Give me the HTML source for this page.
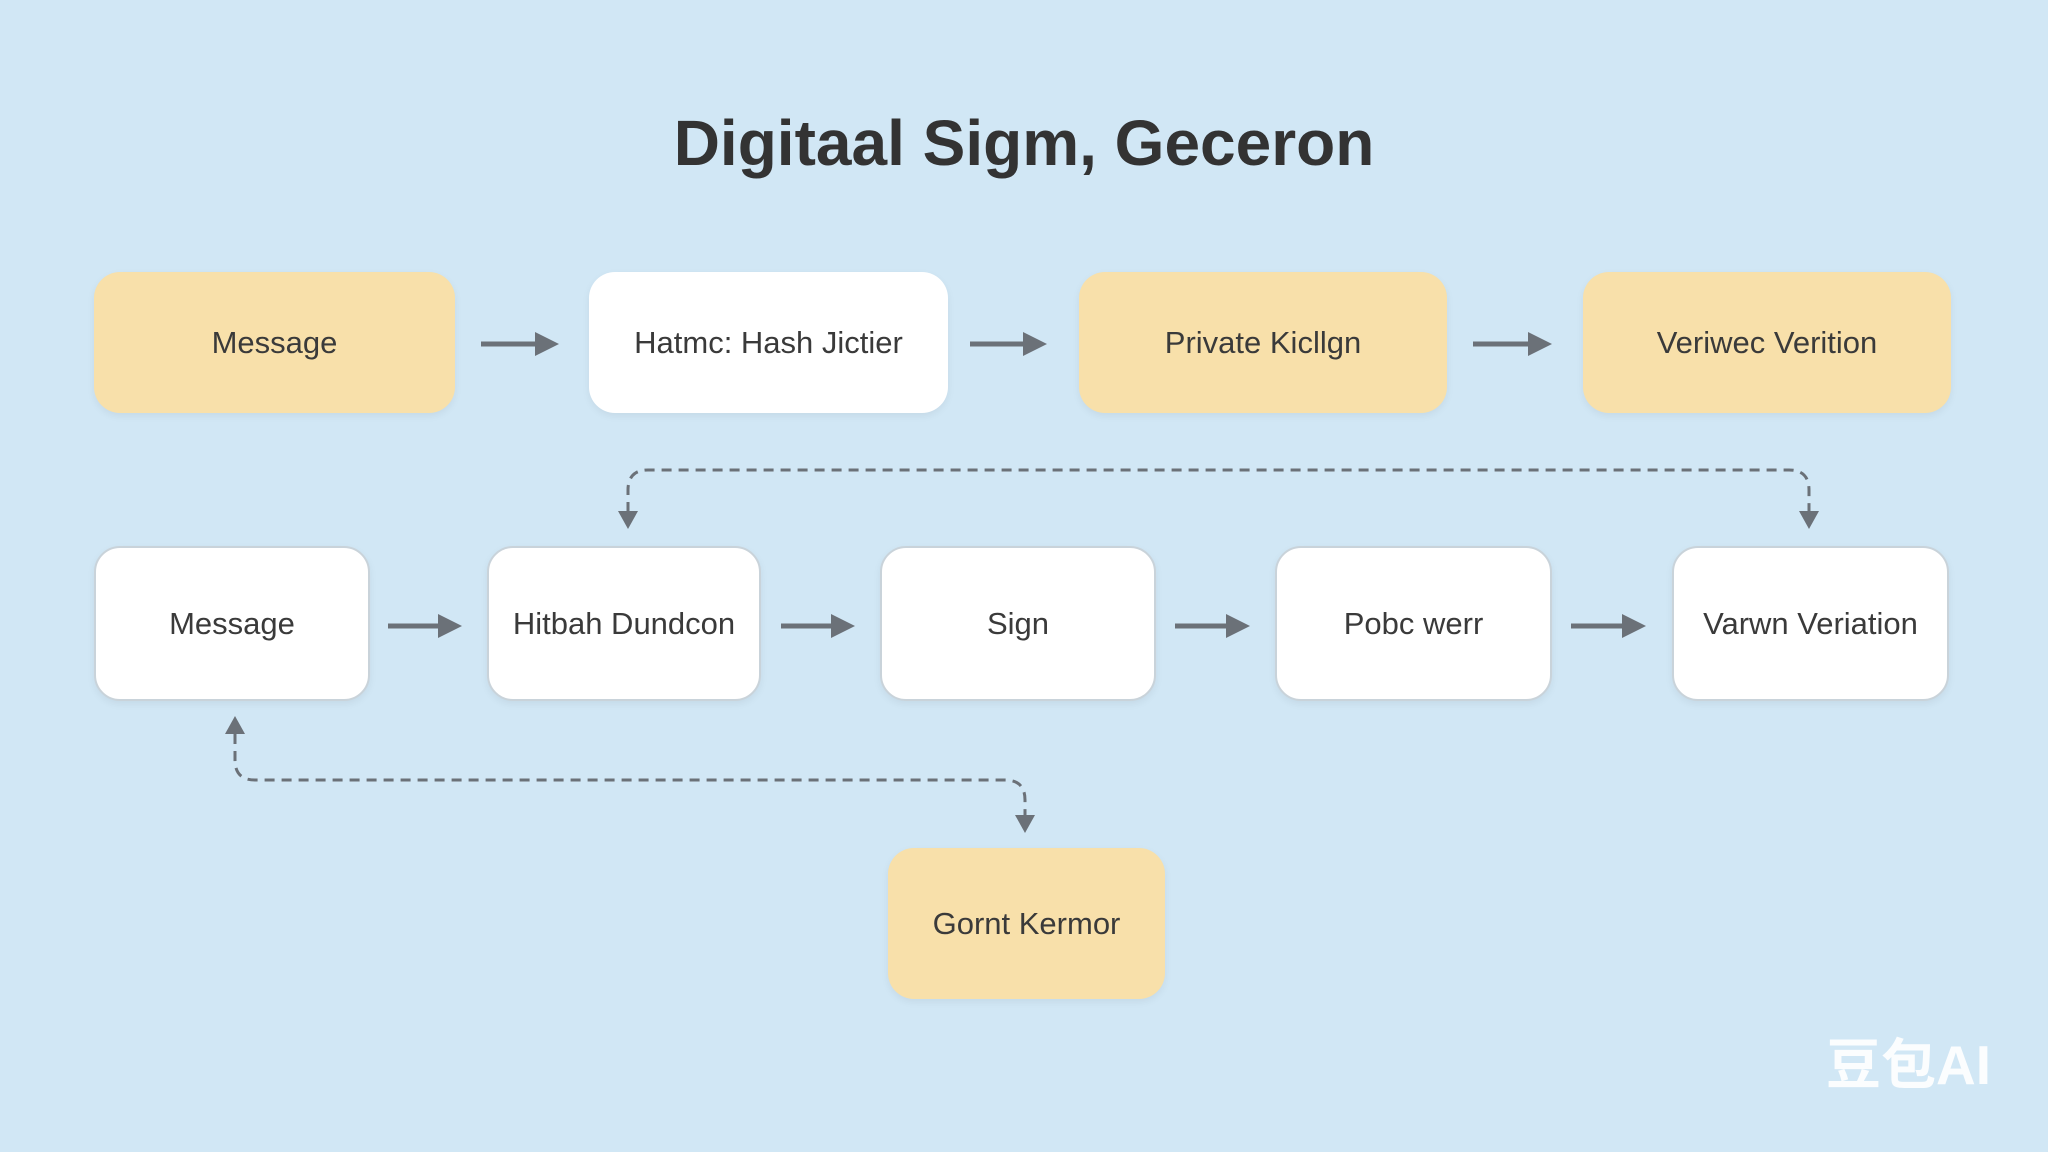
<!DOCTYPE html>
<html><head><meta charset="utf-8"><style>
html,body{margin:0;padding:0}
body{width:2048px;height:1152px;background:#d1e7f5;position:relative;overflow:hidden;font-family:"Liberation Sans","DejaVu Sans",sans-serif;color:#3a3a3a}
.t{position:absolute;left:0;width:2048px;top:106px;text-align:center;font-size:64px;font-weight:bold;color:#333}
.b{position:absolute;display:flex;align-items:center;justify-content:center;font-size:31px;box-sizing:border-box;border-radius:26px}
.y{background:#f8e0aa;box-shadow:0 3px 8px rgba(0,0,0,0.06)}
.w{background:#fff;border:2px solid #c9d3da;box-shadow:0 3px 8px rgba(0,0,0,0.06)}
svg{position:absolute;left:0;top:0}
.wm{position:absolute;left:1826px;top:1020px;font-size:55px;font-weight:bold;color:rgba(255,255,255,0.9);font-family:"Liberation Sans","Noto Sans CJK SC",sans-serif}
</style></head><body>
<div class="t">Digitaal Sigm, Geceron</div>
<div class="b y" style="left:94px;top:272px;width:361px;height:141px">Message</div>
<div class="b w" style="left:589px;top:272px;width:359px;height:141px;border:none">Hatmc: Hash Jictier</div>
<div class="b y" style="left:1079px;top:272px;width:368px;height:141px">Private Kicllgn</div>
<div class="b y" style="left:1583px;top:272px;width:368px;height:141px">Veriwec Verition</div>
<div class="b w" style="left:94px;top:546px;width:276px;height:155px">Message</div>
<div class="b w" style="left:487px;top:546px;width:274px;height:155px">Hitbah Dundcon</div>
<div class="b w" style="left:880px;top:546px;width:276px;height:155px">Sign</div>
<div class="b w" style="left:1275px;top:546px;width:277px;height:155px">Pobc werr</div>
<div class="b w" style="left:1672px;top:546px;width:277px;height:155px">Varwn Veriation</div>
<div class="b y" style="left:888px;top:848px;width:277px;height:151px">Gornt Kermor</div>
<svg width="2048" height="1152">
<g stroke="#6b7178" stroke-width="5" fill="none">
<line x1="481" y1="344" x2="540" y2="344"/><line x1="970" y1="344" x2="1028" y2="344"/><line x1="1473" y1="344" x2="1533" y2="344"/>
<line x1="388" y1="626" x2="443" y2="626"/><line x1="781" y1="626" x2="836" y2="626"/><line x1="1175" y1="626" x2="1231" y2="626"/><line x1="1571" y1="626" x2="1627" y2="626"/>
</g>
<g fill="#6b7178">
<polygon points="535,332 559,344 535,356"/><polygon points="1023,332 1047,344 1023,356"/><polygon points="1528,332 1552,344 1528,356"/>
<polygon points="438,614 462,626 438,638"/><polygon points="831,614 855,626 831,638"/><polygon points="1226,614 1250,626 1226,638"/><polygon points="1622,614 1646,626 1622,638"/>
<polygon points="618,511 638,511 628,529"/><polygon points="1799,511 1819,511 1809,529"/>
<polygon points="225,734 245,734 235,716"/><polygon points="1015,815 1035,815 1025,833"/>
</g>
<g stroke="#6b7178" stroke-width="3" fill="none" stroke-dasharray="10,7">
<path d="M628,512 L628,490 Q628,470 648,470 L1789,470 Q1809,470 1809,490 L1809,512"/>
<path d="M235,734 L235,760 Q235,780 255,780 L1005,780 Q1025,780 1025,800 L1025,815"/>
</g>
</svg>
<div class="wm">豆包AI</div>
</body></html>
